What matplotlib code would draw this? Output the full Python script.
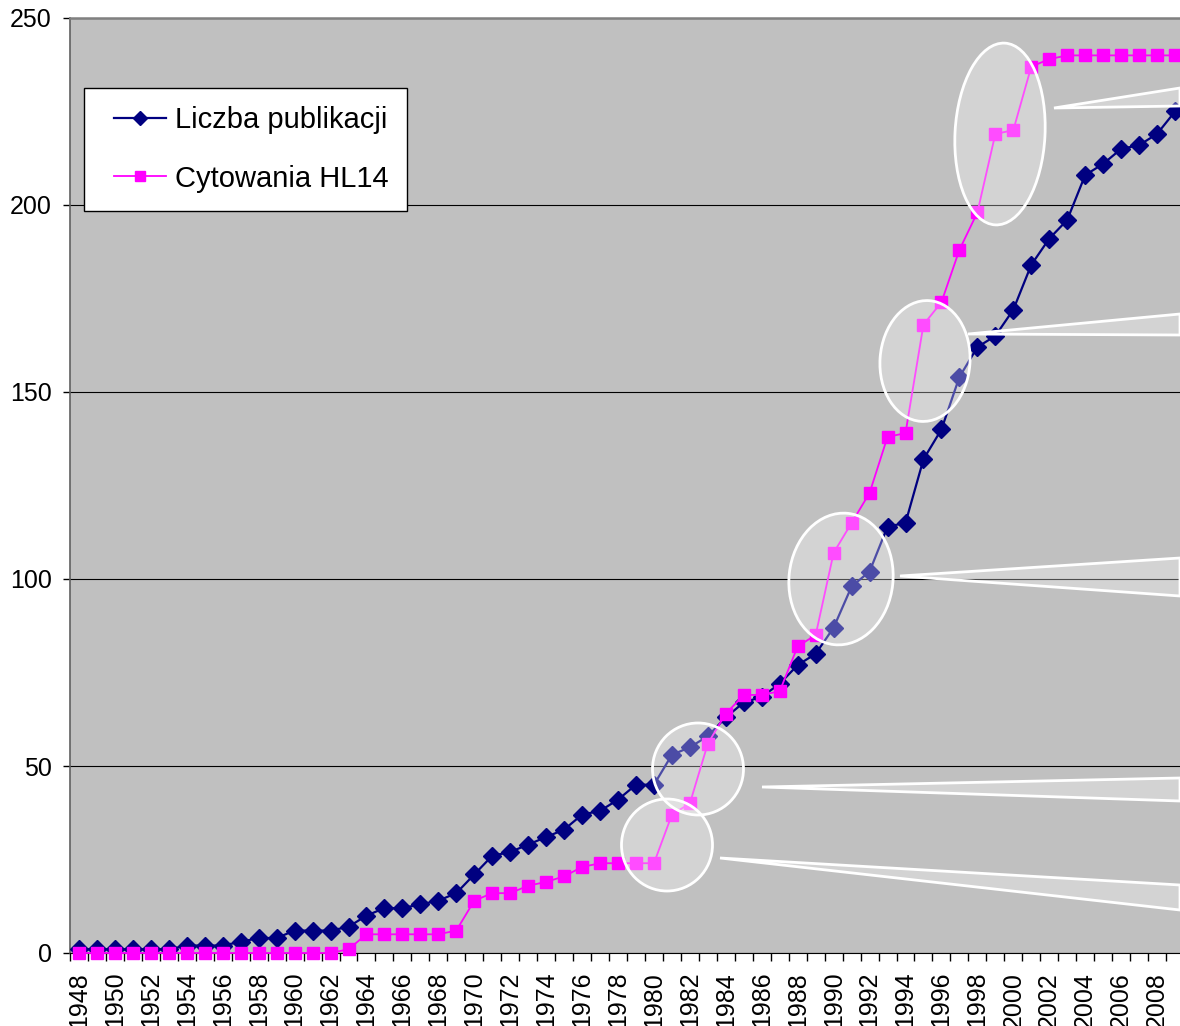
import matplotlib
matplotlib.use("Agg")
import matplotlib.pyplot as plt
from matplotlib.patches import Ellipse, Polygon
from matplotlib.transforms import Affine2D
from matplotlib.ticker import FixedLocator
from matplotlib.legend_handler import HandlerLine2D

years = list(range(1948, 2010))
publikacje = [1, 1, 1, 1, 1, 1, 2, 2, 2, 3, 4, 4, 6, 6, 6, 7, 10, 12, 12, 13,
              14, 16, 21, 26, 27, 29, 31, 33, 37, 38, 41, 45, 45, 53, 55, 58,
              63, 67, 68.5, 72, 77, 80, 87, 98, 102, 114, 115, 132, 140, 154,
              162, 165, 172, 184, 191, 196, 208, 211, 215, 216, 219, 225]
cytowania = [0, 0, 0, 0, 0, 0, 0, 0, 0, 0, 0, 0, 0, 0, 0, 1, 5, 5, 5, 5,
             5, 6, 14, 16, 16, 18, 19, 20.5, 23, 24, 24, 24, 24, 37, 40, 56,
             64, 69, 69, 70, 82, 85, 107, 115, 123, 138, 139, 168, 174, 188,
             198, 219, 220, 237, 239, 240, 240, 240, 240, 240, 240, 240]
series_names = ["Liczba publikacji", "Cytowania HL14"]
yticks = [0, 50, 100, 150, 200, 250]

W, H = 1180, 1026
fig = plt.figure(figsize=(W / 100, H / 100), dpi=100)
fig.patch.set_facecolor("white")
ax = fig.add_axes([70 / W, 1 - 953 / H, 1114 / W, 935 / H])
ax.set_facecolor("#c0c0c0")

l1, = ax.plot(years, publikacje, color="#000080", lw=1.6, marker="D", ms=9,
              mfc="#000080", mec="#000080", label=series_names[0], zorder=3, clip_on=False)
l2, = ax.plot(years, cytowania, color="#ff00ff", lw=1.3, marker="s", ms=8.5,
              mfc="#ff00ff", mec="#ff00ff", label=series_names[1], zorder=4, clip_on=False)

ax.set_xlim(1947.5, 2009.5)
ax.set_ylim(0, 250)
ax.set_yticks(yticks)
ax.set_yticklabels([str(v) for v in yticks])
ax.yaxis.grid(True, color="black", lw=0.8)
ax.set_axisbelow(True)

ax.xaxis.set_major_locator(FixedLocator(years[::2]))
ax.set_xticklabels([str(y) for y in years[::2]], rotation=90, va="top")
ax.xaxis.set_minor_locator(FixedLocator([y + 0.5 for y in [years[0] - 1] + years]))
ax.tick_params(axis="x", which="major", length=0, pad=13.5, labelsize=18)
ax.tick_params(axis="x", which="minor", length=6, width=1, color="black")
ax.tick_params(axis="y", which="major", length=5, width=1, labelsize=18, pad=8)

ax.spines["left"].set_color("#606060")
ax.spines["left"].set_linewidth(1.2)
ax.spines["bottom"].set_color("black")
ax.spines["top"].set_color("#808080")
ax.spines["top"].set_linewidth(1.8)
ax.spines["right"].set_visible(False)

for lab in ax.get_xticklabels() + ax.get_yticklabels():
    lab.set_fontfamily("Liberation Sans")

hm = {l1: HandlerLine2D(xpad=0.42), l2: HandlerLine2D(xpad=0.42)}
leg = ax.legend(loc="upper left",
                bbox_to_anchor=((84 - 70) / 1114, (953 - 88) / 935),
                borderaxespad=0, frameon=True, fancybox=False,
                prop={"family": "Liberation Sans", "size": 21},
                handlelength=2.2, handletextpad=0.3, labelspacing=1.05,
                borderpad=0.62, markerscale=0.8, handler_map=hm)
leg.get_frame().set_edgecolor("black")
leg.get_frame().set_linewidth(1.0)
leg.get_frame().set_facecolor("white")
leg.get_frame().set_alpha(1)
leg.set_zorder(10)

# pixel coordinate transform (origin top-left, y down)
pix = Affine2D().scale(1 / W, -1 / H).translate(0, 1) + fig.transFigure

ellipses = [
    ((667, 845), 91, 92, 0),
    ((698, 769), 91, 92, 0),
    ((841, 579), 104, 132, 6),
    ((925, 361), 90, 121, 4),
    ((1000, 134), 90, 182, 3),
]
for (c, w, h, a) in ellipses:
    e = Ellipse(c, w, h, angle=a, transform=pix, facecolor=(1, 1, 1, 0.3),
                edgecolor="white", lw=2, zorder=6, clip_on=False)
    ax.add_patch(e)

pointers = [
    [(720, 858), (1180, 885), (1180, 910)],
    [(762, 787), (1180, 778), (1180, 801)],
    [(900, 576), (1180, 558), (1180, 596)],
    [(968, 334), (1180, 314), (1180, 335)],
    [(1054, 108), (1180, 88), (1180, 106)],
]
for pts in pointers:
    p = Polygon(pts, closed=True, transform=pix, facecolor=(1, 1, 1, 0.3),
                edgecolor="white", lw=2, zorder=6, clip_on=False)
    ax.add_patch(p)

fig.savefig("out.png", dpi=100)
